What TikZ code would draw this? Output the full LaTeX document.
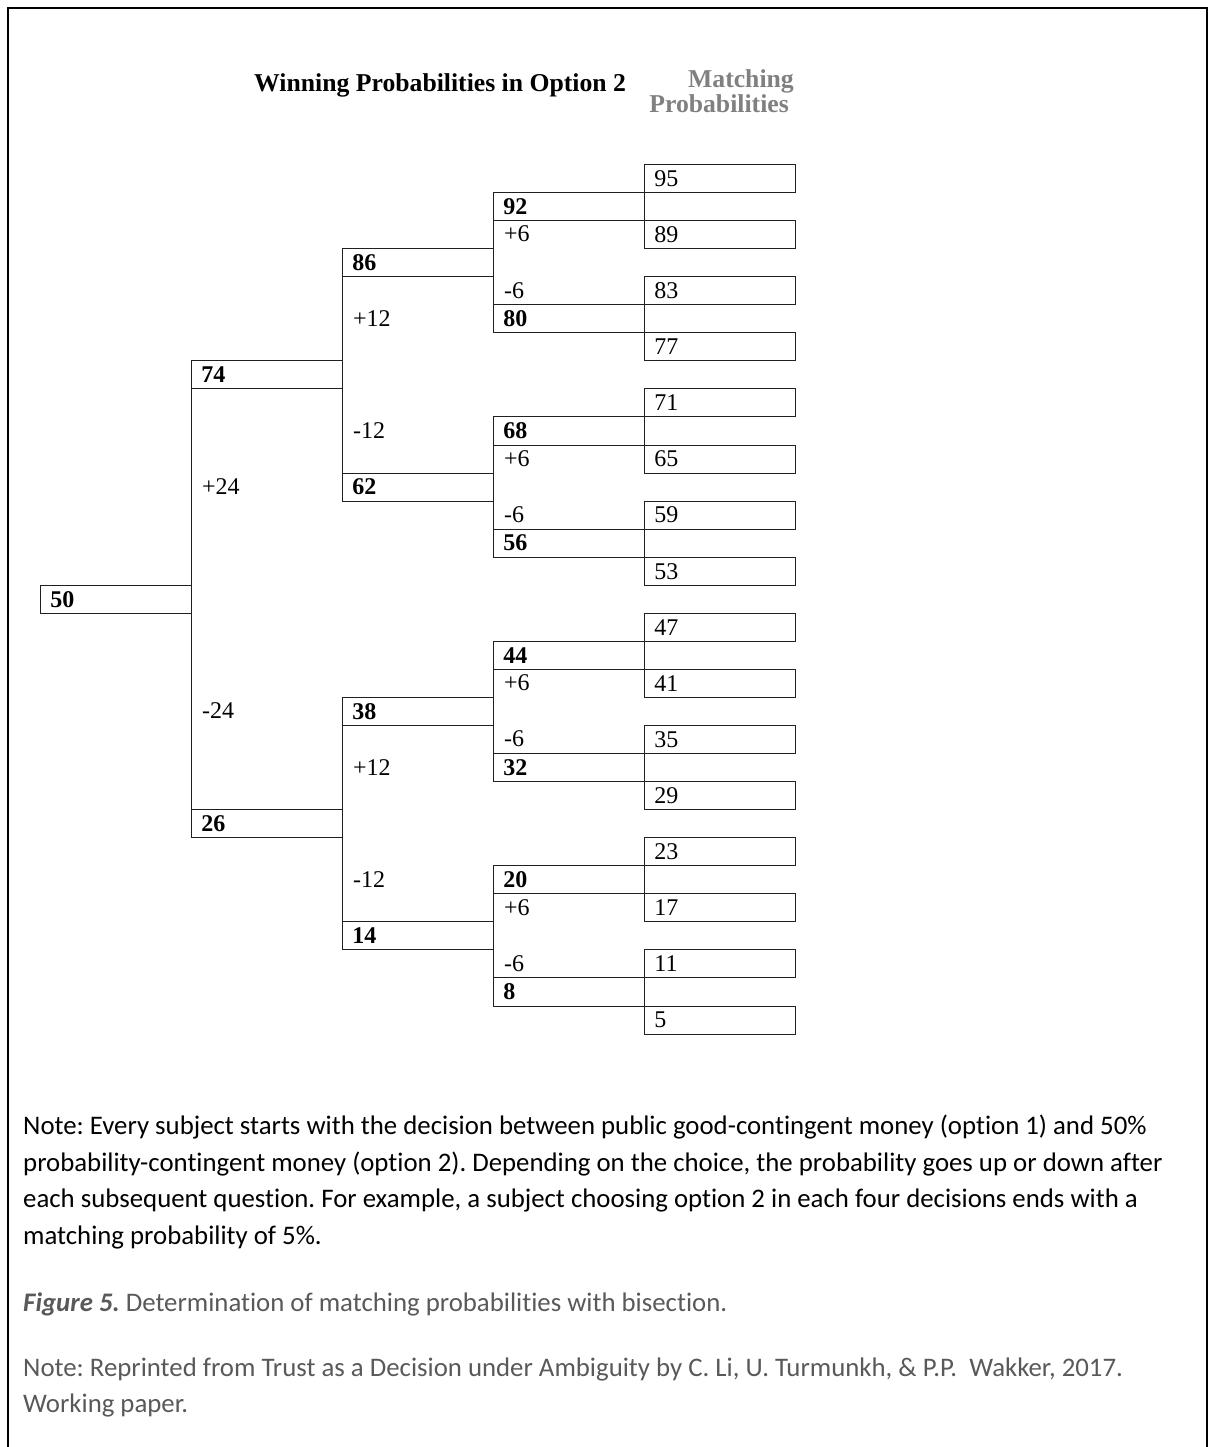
\documentclass[tikz,border=0pt]{standalone}
\usepackage{fontspec}
\setmainfont{Liberation Serif}
\newfontfamily\calibri[Ligatures=NoCommon]{Carlito}
\definecolor{capgray}{HTML}{595959}
\definecolor{headgray}{HTML}{808080}
\definecolor{linecol}{HTML}{202020}
\frenchspacing
\begin{document}
\begin{tikzpicture}[x=1pt,y=-1pt,
  treeline/.style={draw=linecol,line width=0.9pt},
  valbox/.style={treeline,rectangle,anchor=north west,minimum height=28.05pt,inner ysep=0pt,inner xsep=10pt,text width=131pt,align=left,font=\fontsize{24}{28}\selectfont\bfseries},
  leafbox/.style={valbox,font=\fontsize{24}{28}\selectfont},
  steplab/.style={anchor=west,inner sep=0pt,font=\fontsize{24}{28}\selectfont},
  headtxt/.style={inner sep=0pt,font=\fontsize{25.7}{28}\selectfont\bfseries},
  notetxt/.style={anchor=base west,inner sep=0pt,font=\calibri\fontsize{26.8}{30}\selectfont}
]
\useasboundingbox (0,0) rectangle (1211,1447);
% outer frame
\draw[line width=2pt] (8,1470) -- (8,8) -- (1207,8) -- (1207,1470);

% headings
\node[headtxt,anchor=base west] (h1) at (254,92) {Winning Probabilities in Option 2};
\node[headtxt,anchor=base east,text=headgray] (h2) at (794,88) {Matching};
\node[headtxt,anchor=base east,text=headgray] (h3) at (789,113) {Probabilities};

% level 0
\node[valbox] (n50) at (40,{164+15*28.05}) {50};
% level 1
\foreach \v/\r in {74/7,26/23}
  \node[valbox] (n\v) at (191,{164+\r*28.05}) {\v};
% level 2
\foreach \v/\r in {86/3,62/11,38/19,14/27}
  \node[valbox] (n\v) at (342,{164+\r*28.05}) {\v};
% level 3
\foreach \v/\r in {92/1,80/5,68/9,56/13,44/17,32/21,20/25,8/29}
  \node[valbox] (n\v) at (493,{164+\r*28.05}) {\v};
% leaves
\foreach \v/\r in {95/0,89/2,83/4,77/6,71/8,65/10,59/12,53/14,47/16,41/18,35/20,29/22,23/24,17/26,11/28,5/30}
  \node[leafbox] (L\v) at (644,{164+\r*28.05}) {\v};

% vertical connectors
\draw[treeline] (n74.north west) -- (n26.south west);
\draw[treeline] (n86.north west) -- (n62.south west);
\draw[treeline] (n38.north west) -- (n14.south west);
\foreach \a/\b in {92/80,68/56,44/32,20/8}
  \draw[treeline] (n\a.north west) -- (n\b.south west);
\foreach \a/\b in {95/89,83/77,71/65,59/53,47/41,35/29,23/17,11/5}
  \draw[treeline] (L\a.north west) -- (L\b.south west);

% step labels
\node[steplab] (p24) at (202,{164+11.5*28.05}) {+24};
\node[steplab] (m24) at (202,{164+19.5*28.05}) {-24};
\node[steplab] (p12a) at (353,{164+5.5*28.05}) {+12};
\node[steplab] (m12a) at (353,{164+9.5*28.05}) {-12};
\node[steplab] (p12b) at (353,{164+21.5*28.05}) {+12};
\node[steplab] (m12b) at (353,{164+25.5*28.05}) {-12};
\foreach \k/\r in {a/2,b/10,c/18,d/26}
  \node[steplab] (p6\k) at (504,{164+(\r+0.5)*28.05}) {+6};
\foreach \k/\r in {a/4,b/12,c/20,d/28}
  \node[steplab] (m6\k) at (504,{164+(\r+0.5)*28.05}) {-6};

% note text
\node[notetxt] (t1) at (23,1134) {Note: Every subject starts with the decision between public good-contingent money (option 1) and 50\%};
\node[notetxt] (t2) at (23,1171) {probability-contingent money (option 2). Depending on the choice, the probability goes up or down after};
\node[notetxt] (t3) at (23,1207) {each subsequent question. For example, a subject choosing option 2 in each four decisions ends with a};
\node[notetxt] (t4) at (23,1244) {matching probability of 5\%.};
\node[notetxt,text=capgray] (t5) at (23,1311) {\textbf{\textit{Figure 5.}} Determination of matching probabilities with bisection.};
\node[notetxt,text=capgray] (t6) at (23,1376) {Note: Reprinted from Trust as a Decision under Ambiguity by C. Li, U. Turmunkh, \& P.P.\ \ Wakker, 2017.};
\node[notetxt,text=capgray] (t7) at (23,1412) {Working paper.};
\end{tikzpicture}
\end{document}
